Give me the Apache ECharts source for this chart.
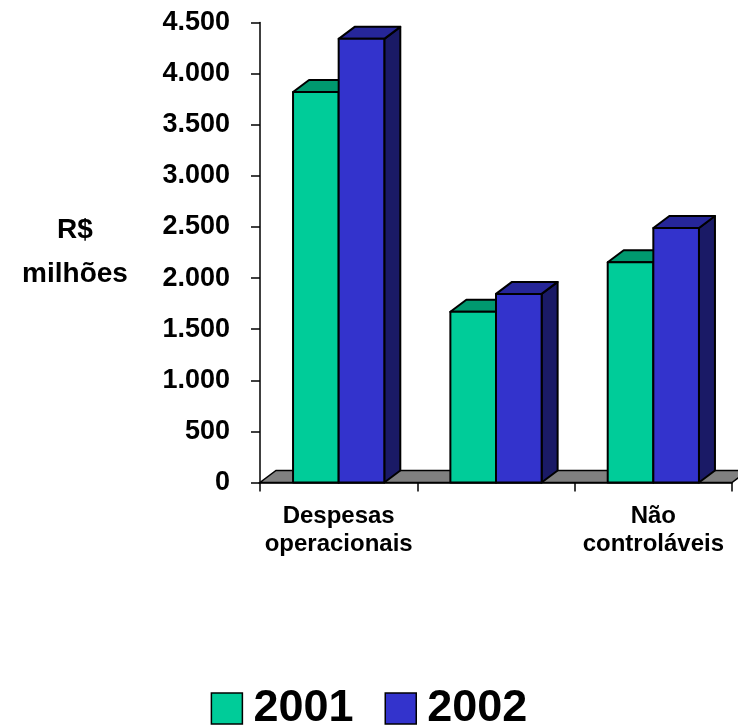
<!DOCTYPE html>
<html><head><meta charset="utf-8">
<script src="https://cdn.jsdelivr.net/npm/echarts@6/dist/echarts.min.js"></script>
<style>html,body{margin:0;padding:0;background:#fff}#c{width:738px;height:725px}</style>
</head><body><div id="c"></div>
<script>
const categories = ['Despesas\noperacionais', 'Controláveis', 'Não\ncontroláveis'];
const seriesNames = ['2001', '2002'];
const values2001 = [3820, 1670, 2155];
const values2002 = [4340, 1845, 2490];
const yMin = 0, yMax = 4500, yStep = 500;
const yAxisTitle = 'R$\nmilhões';

const FONT = '"Liberation Sans", Arial, sans-serif';
const DX = 16, DY = 12;
const palette = [
  {front: '#00CC99', top: '#00996F', side: '#006650'},
  {front: '#3333CC', top: '#262699', side: '#1A1A66'}
];

function barRender(k) {
  const col = palette[k];
  return function (params, api) {
    const idx = api.value(0), val = api.value(1);
    const band = api.size([1, 0])[0];
    const c = api.coord([idx, val]);
    const b = api.coord([idx, 0]);
    const w = band * 0.29;
    const x0 = c[0] - w + k * w, x1 = x0 + w;
    const yT = c[1], yB = b[1];
    const st = (f) => ({fill: f, stroke: '#000', lineWidth: 2, lineJoin: 'round'});
    return {type: 'group', children: [
      {type: 'polygon', shape: {points: [[x1, yB], [x1 + DX, yB - DY], [x1 + DX, yT - DY], [x1, yT]]}, style: st(col.side)},
      {type: 'polygon', shape: {points: [[x0, yT], [x1, yT], [x1 + DX, yT - DY], [x0 + DX, yT - DY]]}, style: st(col.top)},
      {type: 'rect', shape: {x: x0, y: yT, width: w, height: yB - yT}, style: st(col.front)}
    ]};
  };
}

function floorRender(params, api) {
  if (params.dataIndex !== 0) return null;
  const band = api.size([1, 0])[0];
  const first = api.coord([0, 0]);
  const last = api.coord([categories.length - 1, 0]);
  const L = first[0] - band / 2, R = last[0] + band / 2, y = first[1];
  return {type: 'polygon', shape: {points: [[L, y], [R, y], [R + DX, y - DY], [L + DX, y - DY]]},
    style: {fill: '#808080', stroke: '#000', lineWidth: 1.5}};
}

const fmt = v => String(v).replace(/\B(?=(\d{3})+(?!\d))/g, '.');

const chart = echarts.init(document.getElementById('c'), null, {renderer: 'canvas'});
chart.setOption({
  backgroundColor: '#fff',
  animation: false,
  textStyle: {fontFamily: FONT},
  grid: {left: 260, right: 6, top: 22.5, bottom: 242.5, containLabel: false},
  legend: {
    data: seriesNames, top: 681, left: 'center', icon: 'rect',
    itemWidth: 31, itemHeight: 31, itemGap: 31,
    itemStyle: {borderColor: '#000', borderWidth: 1.5},
    textStyle: {fontSize: 45, fontWeight: 'bold', color: '#000', fontFamily: FONT, padding: [0, 0, 0, 6]}
  },
  xAxis: {
    type: 'category', data: categories, boundaryGap: true,
    axisLine: {show: true, lineStyle: {color: '#000', width: 1.5}},
    axisTick: {show: true, length: 9, interval: 0, lineStyle: {color: '#000', width: 1.5}},
    axisLabel: {
      interval: (i) => i !== 1,
      fontSize: 24, fontWeight: 'bold', color: '#000', lineHeight: 28, margin: 20, fontFamily: FONT
    },
    splitLine: {show: false}
  },
  yAxis: {
    type: 'value', min: yMin, max: yMax, interval: yStep,
    name: yAxisTitle, nameLocation: 'middle', nameRotate: 0, nameGap: 185,
    nameTextStyle: {fontSize: 28, fontWeight: 'bold', color: '#000', lineHeight: 44, align: 'center', verticalAlign: 'middle', fontFamily: FONT},
    axisLine: {show: true, lineStyle: {color: '#000', width: 1.5}},
    axisTick: {show: true, length: 9, lineStyle: {color: '#000', width: 1.5}},
    axisLabel: {formatter: fmt, fontSize: 27, fontWeight: 'bold', color: '#000', margin: 30, fontFamily: FONT},
    splitLine: {show: false}
  },
  series: [
    {type: 'custom', name: 'floor', renderItem: floorRender, clip: false, silent: true,
      data: categories.map((_, i) => [i, 0]), encode: {x: 0, y: 1}, z: 1},
    {type: 'custom', name: seriesNames[0], renderItem: barRender(0), clip: false,
      itemStyle: {color: palette[0].front},
      data: values2001.map((v, i) => [i, v]), encode: {x: 0, y: 1}, z: 2},
    {type: 'custom', name: seriesNames[1], renderItem: barRender(1), clip: false,
      itemStyle: {color: palette[1].front},
      data: values2002.map((v, i) => [i, v]), encode: {x: 0, y: 1}, z: 3}
  ]
});
</script></body></html>
